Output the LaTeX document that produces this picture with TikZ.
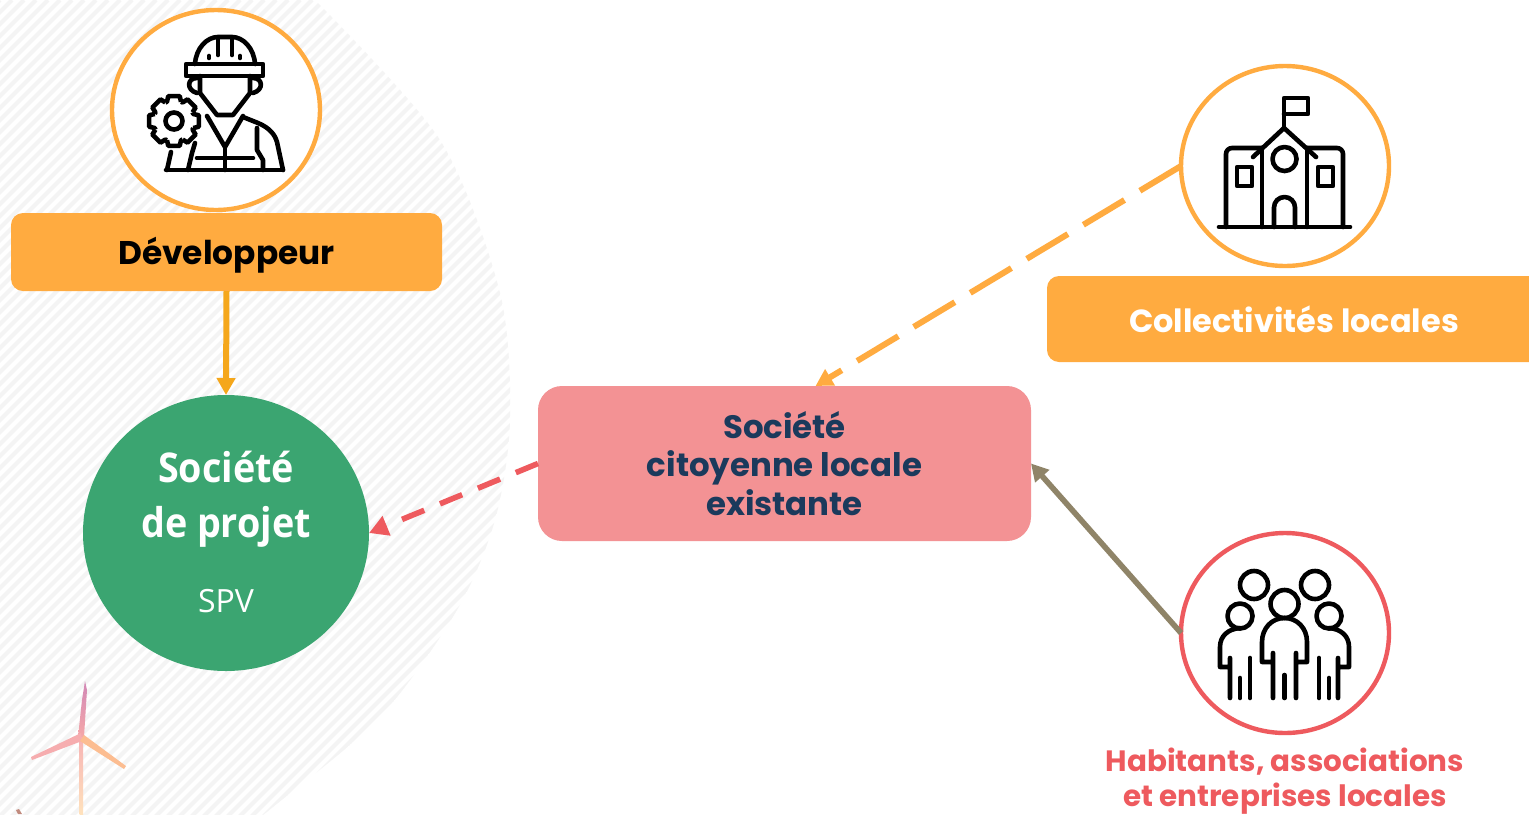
\documentclass[tikz,border=0pt]{standalone}
\usepackage{fontspec}
\usepackage{graphicx}
\usetikzlibrary{shapes.geometric,arrows.meta}
\setmainfont{Poppins}
\newfontfamily\segoe{Open Sans}
\definecolor{orangeA}{HTML}{FFAB40}
\definecolor{orangeB}{HTML}{F5A71B}
\definecolor{redA}{HTML}{EE5A5E}
\definecolor{pinkA}{HTML}{F39294}
\definecolor{greenA}{HTML}{3BA571}
\definecolor{brownA}{HTML}{8F8468}
\definecolor{navyA}{HTML}{1B3A5C}
\definecolor{hatchA}{HTML}{F4F4F4}
\newcommand{\narrowed}[1]{\scalebox{.92}[1]{#1}}
\tikzset{
  px/.style={x=0.5pt,y=-0.5pt},
  ring/.style={ellipse,draw=#1,line width=2.2pt,minimum width=104pt,minimum height=100pt,inner sep=0pt,outer sep=0pt},
  orangebox/.style={rectangle,rounded corners=6pt,fill=orangeA,inner sep=0pt,outer sep=0pt},
  icon/.style={draw=black,line width=2.3pt,line cap=round,line join=round},
  conn/.style={-{Triangle[length=8.5pt,width=9pt]}},
  connbig/.style={-{Triangle[length=9.5pt,width=10pt]}},
}
\begin{document}
\begin{tikzpicture}[px]
\useasboundingbox (0,0) rectangle (1529,814);
\fill[white] (0,0) rectangle (1529,814);
% hatched background
\begin{scope}
\clip (-10,-10) -- (300,-10) -- plot[smooth] coordinates {(315,0) (440,140) (500,293) (510,420) (495,520) (457,610) (380,717) (273,807) (258,818)} -- (-10,818) -- cycle;
\foreach \i in {0,12,...,2400}{
  \draw[hatchA,line width=2pt] (\i,0) -- (\i-900,900);
}
\end{scope}
% wind turbine
\shade[bottom color=orangeA!35,top color=pinkA!70] (79.5,737) rectangle (83,814);
\shade[top color=violet!45!pink!80,bottom color=pinkA!80] (85,681) -- (87,690) -- (84,737) -- (78,737) -- (82,700) -- cycle;
\fill[pinkA!75] (81,733) -- (31,757) -- (32,760) -- (82,741) -- cycle;
\fill[orangeA!60!pinkA!70] (84,735) -- (126,766) -- (124,769) -- (80,741) -- cycle;
\fill[brownA!50!pinkA] (16,810) -- (19,809) -- (22,814) -- (18,814) -- cycle;
% nodes
\node[ring=orangeA,fill=white] (devring) at (216,110) {};
\node[ring=orangeA,fill=white] (colring) at (1285,166) {};
\node[ring=redA,fill=white] (habring) at (1285,633) {};
\node[orangebox,minimum width=215.5pt,minimum height=39pt,text height=14pt,text depth=2pt,font=\bfseries\fontsize{16.4}{19}\selectfont] (dev) at (226.5,252) {Développeur};
\node[orangebox,minimum width=247pt,minimum height=43pt,text=white,font=\bfseries\fontsize{16}{19}\selectfont] (col) at (1294,319) {Collectivités locales};
\node[ellipse,fill=greenA,minimum width=143pt,minimum height=138pt,inner sep=0pt,outer sep=0pt] (spv) at (226,533) {};
\node[text=white,font=\segoe\bfseries\fontsize{20.5}{27.5}\selectfont,align=center] (spvt) at (226,499) {\narrowed{Société}\\\narrowed{de projet}};
\node[text=white,font=\segoe\fontsize{16}{19}\selectfont] (spvs) at (226,601) {SPV};
\node[rectangle,rounded corners=12pt,fill=pinkA,minimum width=246.5pt,minimum height=77.5pt,inner sep=0pt,outer sep=0pt,text=navyA,font=\bfseries\fontsize{16.2}{19.3}\selectfont,align=center] (soc) at (784.5,463.5) {Société\\citoyenne locale\\existante};
\node[text=redA,font=\bfseries\fontsize{14.7}{17.5}\selectfont,align=center] (hab) at (1285,781) {Habitants, associations\\et entreprises locales};
% connectors
\draw[conn,orangeB,line width=3pt] (dev.south) -- (spv.north);
\draw[conn,orangeA,line width=3pt,dash pattern=on 24pt off 9pt] (colring.west) -- ([xshift=15.5pt]soc.north);
\draw[connbig,redA,line width=2.8pt,dash pattern=on 12pt off 8.5pt] (soc.west) -- (spv.east);
\draw[conn,brownA,line width=2.8pt] (habring.west) -- (soc.east);
% worker icon
\begin{scope}[icon]
\draw (186,64) rectangle (263,76);
\draw (195,64) .. controls (196,48) and (207,37) .. (218,37) -- (232,37) .. controls (243,37) and (254,48) .. (255,64);
\draw (218,38) -- (218,55) (232,38) -- (232,55) (209,56) -- (209,58) (240,56) -- (240,58);
\draw (200,76) -- (200,93) -- (217,115) -- (233,115) -- (250,93) -- (250,76);
\draw (197,78) .. controls (187,78) and (186,90) .. (197,93);
\draw (253,78) .. controls (263,78) and (264,90) .. (253,93);
\draw (207,116) -- (225,147) -- (243,116);
\draw (225,147) -- (225,170);
\draw (197,158) -- (253,158);
\draw (166,170) -- (283,170);
\draw (243,117) -- (258,123) .. controls (270,128) and (275,135) .. (277,142) -- (283,170);
\draw (257,128) -- (257,150) -- (263,160) -- (263,170);
\draw (195,143) -- (192,153) -- (188,170);
\draw (171,152) -- (167,170);
\draw (174,121) circle [radius=8.5];
\foreach \a in {0,45,...,315}{
  \draw[line cap=butt] ({174+20.5*cos(\a+20)},{121+20.5*sin(\a+20)})
    -- ({174+25.5*cos(\a+13)},{121+25.5*sin(\a+13)})
    -- ({174+25.5*cos(\a-13)},{121+25.5*sin(\a-13)})
    -- ({174+20.5*cos(\a-20)},{121+20.5*sin(\a-20)})
    -- ({174+20.5*cos(\a-25)},{121+20.5*sin(\a-25)});
}
\end{scope}
% town hall icon
\begin{scope}[icon]
\draw (1219,227) -- (1350,227);
\draw[rounded corners=3pt] (1226,227) -- (1226,148) -- (1262,148);
\draw[rounded corners=3pt] (1343,227) -- (1343,148) -- (1307,148);
\draw (1262,227) -- (1262,148) (1307,227) -- (1307,148);
\draw (1253,157) -- (1284,128) -- (1316,157);
\draw (1284,128) -- (1284,98) -- (1308,98) -- (1308,114) -- (1284,114);
\draw (1284.5,159) circle [radius=12];
\draw (1274,227) -- (1274,207.5) arc [start angle=180,end angle=360,radius=10.5] -- (1295,227);
\draw (1237,167) rectangle (1252,186);
\draw (1318,167) rectangle (1333,186);
\end{scope}
% people icon
\begin{scope}[icon]
\draw (1254,585) circle [radius=14] (1315,585) circle [radius=14] (1284.5,604) circle [radius=14];
\draw (1240,616) circle [radius=12.5] (1329,616) circle [radius=12.5];
\draw (1273,698) -- (1273,653) (1273,662) -- (1262,662) -- (1262,642) .. controls (1262,628) and (1272,618) .. (1284.5,618) .. controls (1297,618) and (1307,628) .. (1307,642) -- (1307,662) -- (1296,662) (1296,653) -- (1296,698);
\draw (1284.5,675) -- (1284.5,698);
\draw (1230,698) -- (1230,658) (1230,667) -- (1220,667) -- (1220,647) .. controls (1220,636) and (1228,629) .. (1240,628);
\draw (1240,678) -- (1240,698) (1250,658) -- (1250,698);
\draw (1319,658) -- (1319,698) (1329,678) -- (1329,698);
\draw (1338,698) -- (1338,658) (1338,667) -- (1349,667) -- (1349,647) .. controls (1349,636) and (1341,629) .. (1329,628);
\end{scope}
\end{tikzpicture}
\end{document}
